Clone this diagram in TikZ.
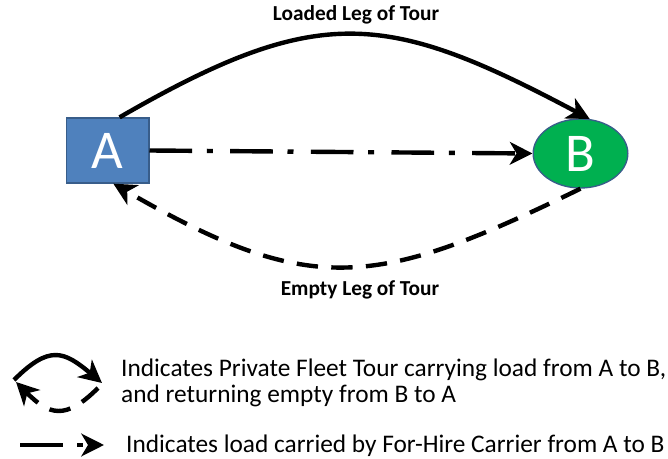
\documentclass[tikz,border=0pt]{standalone}
\usepackage{fontspec}
\setmainfont{Carlito}
\usetikzlibrary{arrows.meta,shapes.geometric,positioning}

\definecolor{boxblue}{HTML}{4F81BD}
\definecolor{rimblue}{HTML}{385D8A}
\definecolor{nodegreen}{HTML}{00B050}

\begin{document}
\begin{tikzpicture}[x=0.75pt,y=0.75pt,
                    >={Stealth[length=17pt,width=17pt,inset=5pt]},
                    line width=3.3pt,
                    loaded/.style={->},
                    empty/.style={->,dash pattern=on 16pt off 10pt},
                    hired/.style={->,dash pattern=on 32pt off 11pt on 4.5pt off 13pt},
                    lbl/.style={font=\fontsize{16}{19}\selectfont\bfseries,anchor=base},
                    legtxt/.style={font=\fontsize{19}{23}\selectfont,anchor=base west,inner sep=0pt}]
  \useasboundingbox (0,0) rectangle (668,-459);
  % the two stops
  \node [draw=rimblue,line width=1pt,fill=boxblue,minimum width=62pt,minimum height=48.75pt,
         text=white,font=\fontsize{41}{48}\selectfont] (A) at (107.5,-150.5) {A};
  \node [ellipse,draw=rimblue,line width=1pt,fill=nodegreen,minimum width=71pt,minimum height=51.75pt,
         inner sep=0pt,text=white,font=\fontsize{41}{48}\selectfont] (B) at (580.5,-153.5) {B};
  \path (A.70)    edge [loaded,out=30,in=152,looseness=1.25] (B.75)
        (A.east)  edge [hired] (B.west)
        (B.south) edge [empty,out=206,in=-30,looseness=1.25] (A.-80);
  \node [lbl] (loadlbl)  at (356,-21)  {Loaded Leg of Tour};
  \node [lbl] (emptylbl) at (360,-296) {Empty Leg of Tour};
  % legend
  \coordinate (iconL) at (14,-380);
  \coordinate (iconR) at (102,-383);
  \coordinate (iconS) at (98,-388);
  \coordinate (iconE) at (16,-382);
  \path (iconL) edge [loaded,out=45,in=140,looseness=1.45] (iconR)
        (iconS) edge [empty,out=225,in=-45,looseness=1.45] (iconE);
  \coordinate (hireL) at (20,-445);
  \coordinate (hireR) at (104,-445);
  \path (hireL) edge [hired] (hireR);
  \node [legtxt] (legA) at (119,-377) {Indicates Private Fleet Tour carrying load from A to B,};
  \node [legtxt] (legB) at (119,-403) {and returning empty from B to A};
  \node [legtxt] (legC) at (124,-453) {Indicates load carried by For-Hire Carrier from A to B};
\end{tikzpicture}
\end{document}
